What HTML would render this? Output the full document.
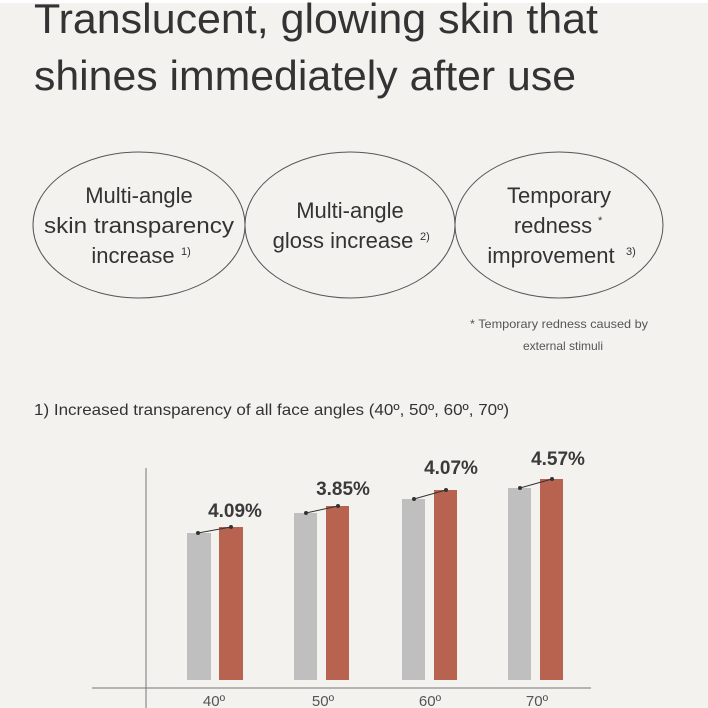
<!DOCTYPE html>
<html><head><meta charset="utf-8"><style>
html,body{margin:0;padding:0;background:#f3f2ef;}
svg{display:block;font-family:"Liberation Sans",sans-serif;}
</style></head><body>
<svg width="708" height="708" viewBox="0 0 708 708" xmlns="http://www.w3.org/2000/svg">
<rect width="708" height="708" fill="#f3f2ef"/>
<rect width="708" height="3" fill="#ffffff"/>
<g fill="#333" font-size="42">
<text x="34" y="33" textLength="564" lengthAdjust="spacingAndGlyphs">Translucent, glowing skin that</text>
<text x="34" y="90" textLength="542" lengthAdjust="spacingAndGlyphs">shines immediately after use</text>
</g>
<g fill="none" stroke="#555" stroke-width="1">
<ellipse cx="139" cy="225" rx="106" ry="73"/>
<ellipse cx="350" cy="225" rx="105" ry="73"/>
<ellipse cx="559" cy="225" rx="104" ry="73"/>
</g>
<g fill="#333" font-size="22" text-anchor="middle">
<text x="139" y="203">Multi-angle</text>
<text x="139" y="233" textLength="190" lengthAdjust="spacingAndGlyphs">skin transparency</text>
<text x="133" y="263">increase</text>
<text x="350" y="218">Multi-angle</text>
<text x="343" y="248">gloss increase</text>
<text x="559" y="203">Temporary</text>
<text x="553" y="233">redness</text>
<text x="551" y="263">improvement</text>
</g>
<g fill="#333" font-size="11">
<text x="181" y="255">1)</text>
<text x="420" y="240">2)</text>
<text x="598" y="224">*</text>
<text x="626" y="255">3)</text>
</g>
<g fill="#555" font-size="12" text-anchor="middle">
<text x="559" y="328" textLength="178" lengthAdjust="spacingAndGlyphs">* Temporary redness caused by</text>
<text x="563" y="350">external stimuli</text>
</g>
<text x="34" y="415" fill="#333" font-size="16" textLength="475" lengthAdjust="spacingAndGlyphs">1) Increased transparency of all face angles (40º, 50º, 60º, 70º)</text>
<line x1="146" y1="468" x2="146" y2="708" stroke="#777" stroke-width="1"/>
<line x1="92" y1="688" x2="591" y2="688" stroke="#777" stroke-width="1"/>
<g fill="#bfbfbf">
<rect x="187" y="533" width="24" height="147"/>
<rect x="294" y="513" width="23" height="167"/>
<rect x="402" y="499" width="23" height="181"/>
<rect x="508" y="488" width="23" height="192"/>
</g>
<g fill="#b7634f">
<rect x="219" y="527" width="24" height="153"/>
<rect x="326" y="506" width="23" height="174"/>
<rect x="434" y="490" width="23" height="190"/>
<rect x="540" y="479" width="23" height="201"/>
</g>
<g stroke="#333" stroke-width="1" fill="#333">
<line x1="198" y1="533" x2="231" y2="527"/><circle cx="198" cy="533" r="1.5"/><circle cx="231" cy="527" r="1.5"/>
<line x1="306" y1="513" x2="338" y2="506"/><circle cx="306" cy="513" r="1.5"/><circle cx="338" cy="506" r="1.5"/>
<line x1="414" y1="499" x2="446" y2="490"/><circle cx="414" cy="499" r="1.5"/><circle cx="446" cy="490" r="1.5"/>
<line x1="520" y1="488" x2="552" y2="479"/><circle cx="520" cy="488" r="1.5"/><circle cx="552" cy="479" r="1.5"/>
</g>
<g fill="#3a3a3a" font-size="19" font-weight="bold" text-anchor="middle">
<text x="235" y="517">4.09%</text>
<text x="343" y="495">3.85%</text>
<text x="451" y="474">4.07%</text>
<text x="558" y="465">4.57%</text>
</g>
<g fill="#555" font-size="15" text-anchor="middle">
<text x="214" y="706">40º</text>
<text x="323" y="706">50º</text>
<text x="430" y="706">60º</text>
<text x="537" y="706">70º</text>
</g>
</svg>
</body></html>
